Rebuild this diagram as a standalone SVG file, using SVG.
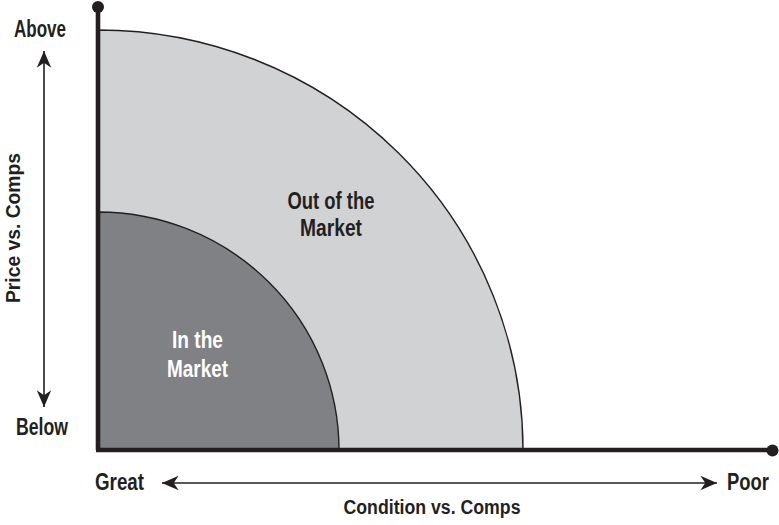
<svg xmlns="http://www.w3.org/2000/svg" width="779" height="525" viewBox="0 0 779 525">
<style>
.t{font-family:"Liberation Sans",Arial,sans-serif;font-weight:bold;fill:#231f20}
.w{fill:#ffffff}
.arr{stroke:#231f20;stroke-width:1.6;fill:none}
.ax{stroke:#231f20;stroke-width:4.6;fill:none}
</style>
<defs>
<marker id="ah" markerUnits="userSpaceOnUse" markerWidth="20" markerHeight="20" viewBox="-16 -8 18 16" refX="0" refY="0" orient="auto-start-reverse">
<path d="M0,0 L-15,-6.5 L-10.5,0 L-15,6.5 Z" fill="#231f20"/>
</marker>
</defs>
<rect width="779" height="525" fill="#ffffff"/>
<g id="out-of-market">
<path d="M98,450 L98,30 A425,420 0 0 1 523,450 Z" fill="#d1d2d4" stroke="#231f20" stroke-width="1.4"/>
<text class="t" x="331" y="209" font-size="23" text-anchor="middle" textLength="87" lengthAdjust="spacingAndGlyphs">Out of the</text>
<text class="t" x="331" y="236" font-size="23" text-anchor="middle" textLength="62" lengthAdjust="spacingAndGlyphs">Market</text>
</g>
<g id="in-market">
<path d="M98,450 L98,212 A241,238 0 0 1 339,450 Z" fill="#808184" stroke="#231f20" stroke-width="1.4"/>
<text class="t w" x="197.5" y="348" font-size="23" text-anchor="middle" textLength="51" lengthAdjust="spacingAndGlyphs">In the</text>
<text class="t w" x="197.5" y="377" font-size="23" text-anchor="middle" textLength="61" lengthAdjust="spacingAndGlyphs">Market</text>
</g>
<g id="axes">
<line class="ax" x1="98" y1="7" x2="98" y2="450"/>
<line class="ax" x1="96" y1="450" x2="772" y2="450"/>
<circle cx="98" cy="7" r="6" fill="#231f20"/>
<circle cx="772.5" cy="450.5" r="6" fill="#231f20"/>
</g>
<g id="connectors">
<line class="arr" x1="44" y1="51" x2="44" y2="407" marker-start="url(#ah)" marker-end="url(#ah)"/>
<line class="arr" x1="162" y1="483" x2="717" y2="483" marker-start="url(#ah)" marker-end="url(#ah)"/>
</g>
<g id="labels">
<text class="t" x="14" y="37" font-size="23" textLength="52" lengthAdjust="spacingAndGlyphs">Above</text>
<text class="t" x="16" y="435" font-size="23" textLength="52" lengthAdjust="spacingAndGlyphs">Below</text>
<text class="t" x="95" y="490" font-size="23" textLength="49" lengthAdjust="spacingAndGlyphs">Great</text>
<text class="t" x="727" y="490" font-size="23" textLength="42" lengthAdjust="spacingAndGlyphs">Poor</text>
<text class="t" x="432" y="514" font-size="20" text-anchor="middle" textLength="177" lengthAdjust="spacingAndGlyphs">Condition vs. Comps</text>
<text class="t" transform="translate(20,228) rotate(-90)" x="0" y="0" font-size="20" text-anchor="middle" textLength="150" lengthAdjust="spacingAndGlyphs">Price vs. Comps</text>
</g>
</svg>
